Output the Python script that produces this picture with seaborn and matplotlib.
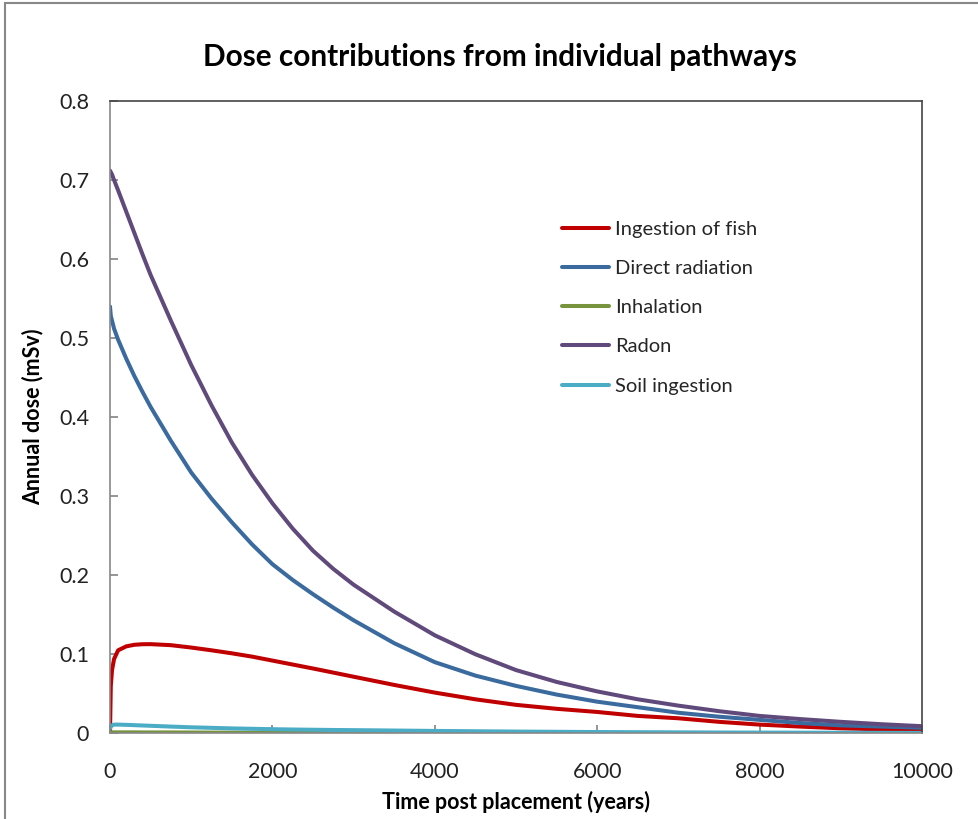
import pandas as pd
import matplotlib
matplotlib.use('Agg')
import matplotlib.pyplot as plt
import matplotlib.patches as mpatches
import seaborn as sns

# values
years = [0, 10, 25, 50, 100, 200, 300, 400, 500, 750, 1000, 1250, 1500, 1750, 2000,
         2250, 2500, 2750, 3000, 3500, 4000, 4500, 5000, 5500, 6000, 6500, 7000,
         7500, 8000, 8500, 9000, 9500, 10000]

fish = [0.0, 0.060, 0.080, 0.094, 0.105, 0.110, 0.112, 0.1127, 0.1128, 0.1115, 0.1085,
        0.105, 0.1012, 0.097, 0.092, 0.087, 0.082, 0.0768, 0.0716, 0.0612, 0.0515, 0.043,
        0.036, 0.031, 0.027, 0.022, 0.019, 0.0145, 0.011, 0.0085, 0.0063, 0.005, 0.004]
direct = [0.540, 0.528, 0.522, 0.512, 0.498, 0.474, 0.452, 0.432, 0.413, 0.370, 0.330,
          0.297, 0.267, 0.239, 0.214, 0.194, 0.176, 0.159, 0.143, 0.114, 0.090, 0.073,
          0.060, 0.049, 0.040, 0.033, 0.026, 0.021, 0.017, 0.013, 0.010, 0.0085, 0.007]
inhalation = [0.0005, 0.001, 0.0012, 0.0012, 0.0012, 0.0012, 0.0012, 0.0011, 0.0011,
              0.0011, 0.001, 0.0009, 0.0008, 0.0007, 0.0006, 0.0005, 0.0004, 0.00035,
              0.0003, 0.00025, 0.0002, 0.00015, 0.0001, 0.0001, 0.0001, 0.0001, 0.0001,
              0.0001, 0.0001, 0.0001, 0.0001, 0.0001, 0.0001]
radon = [0.712, 0.710, 0.707, 0.700, 0.687, 0.660, 0.633, 0.606, 0.580, 0.522, 0.466,
         0.415, 0.368, 0.327, 0.291, 0.259, 0.231, 0.208, 0.188, 0.154, 0.124, 0.100,
         0.080, 0.065, 0.053, 0.043, 0.035, 0.028, 0.022, 0.018, 0.0145, 0.0115, 0.009]
soil = [0.006, 0.009, 0.010, 0.011, 0.011, 0.0107, 0.0103, 0.0099, 0.0095, 0.0085,
        0.0076, 0.0069, 0.0062, 0.0057, 0.0052, 0.0048, 0.0045, 0.0042, 0.004, 0.0035,
        0.003, 0.0026, 0.0022, 0.0019, 0.0016, 0.0014, 0.0012, 0.001, 0.0009, 0.0008,
        0.0007, 0.0006, 0.0005]

pathways = ['Ingestion of fish', 'Direct radiation', 'Inhalation', 'Radon', 'Soil ingestion']
colors = ['#C00000', '#3A6A9E', '#77933C', '#604A7B', '#4BACC6']

df = pd.concat([
    pd.DataFrame({'Year': years, 'Dose': vals, 'Pathway': name})
    for name, vals in zip(pathways, [fish, direct, inhalation, radon, soil])
])

sns.set_theme(style='white')
plt.rcParams['font.family'] = ['Lato', 'DejaVu Sans']

fig = plt.figure(figsize=(9.79, 8.19), dpi=100)
ax = fig.add_axes([110 / 979, 1 - 733.3 / 819, 812 / 979, 632.3 / 819])

sns.lineplot(data=df, x='Year', y='Dose', hue='Pathway', hue_order=pathways,
             palette=colors, linewidth=2.9, ax=ax)

ax.set_xlim(0, 10000)
ax.set_ylim(0, 0.8)
ax.set_xticks([0, 2000, 4000, 6000, 8000, 10000])
ax.set_yticks([0, 0.1, 0.2, 0.3, 0.4, 0.5, 0.6, 0.7, 0.8])
ax.set_yticklabels(['0', '0.1', '0.2', '0.3', '0.4', '0.5', '0.6', '0.7', '0.8'])
ax.tick_params(axis='x', direction='in', length=6, color='#888888', pad=21,
               labelsize=15.5, labelcolor='#222222', bottom=True)
ax.tick_params(axis='y', direction='in', length=6, color='#888888', pad=15,
               labelsize=15.5, labelcolor='#222222', left=True)

for side in ['left', 'bottom']:
    ax.spines[side].set_color('#888888')
for side in ['top', 'right']:
    ax.spines[side].set_color('#444444')
for s in ax.spines.values():
    s.set_linewidth(1.2)

ax.set_xlabel('Time post placement (years)', fontsize=15.5, fontweight='bold',
              labelpad=6, color='black')
ax.set_ylabel('Annual dose (mSv)', fontsize=15.5, fontweight='bold', labelpad=11,
              color='black')
fig.text(0.511, 1 - 57 / 819, 'Dose contributions from individual pathways',
         ha='center', va='center', fontsize=21.4, fontweight='bold', color='black')

ax.legend(loc='upper left', bbox_to_anchor=(0.557, 0.811), frameon=False,
          fontsize=14.5, handlelength=2.3, handletextpad=0.3, labelspacing=1.1,
          borderpad=0, borderaxespad=0, title=None)

# outer chart border, cut off at the right and bottom like the reference
fig.patches.append(mpatches.Rectangle((5 / 979, -0.1), 1.2, 1 - 3 / 819 + 0.1,
                                      transform=fig.transFigure, fill=False,
                                      edgecolor='#888888', linewidth=1.5))

fig.savefig('out.png', dpi=100)
